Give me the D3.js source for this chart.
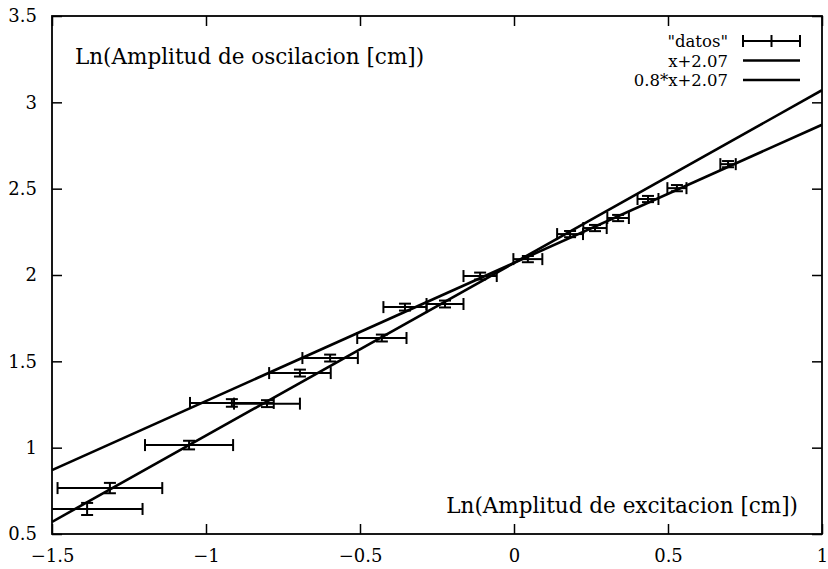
<!DOCTYPE html>
<html>
<head>
<meta charset="utf-8">
<script src="https://cdn.jsdelivr.net/npm/d3@7"></script>
<style>
  body { margin: 0; background: #fff; }
</style>
</head>
<body>
<div class="chart-wrapper"></div>
<script>
// measured points (ln of excitation amplitude vs ln of oscillation amplitude)
var xVals = [-1.386, -1.312, -1.055, -0.916, -0.802, -0.695, -0.597, -0.429, -0.354, -0.224, -0.110, 0.045, 0.182, 0.263, 0.338, 0.435, 0.529, 0.695];
var yVals = [0.645, 0.766, 1.015, 1.259, 1.255, 1.432, 1.519, 1.635, 1.814, 1.832, 1.994, 2.092, 2.237, 2.272, 2.330, 2.440, 2.503, 2.642];
var xErr = [0.18, 0.17, 0.143, 0.136, 0.107, 0.10, 0.09, 0.08, 0.07, 0.06, 0.054, 0.047, 0.042, 0.038, 0.035, 0.034, 0.031, 0.025];
var yErr = [0.035, 0.03, 0.025, 0.022, 0.02, 0.02, 0.02, 0.02, 0.02, 0.02, 0.02, 0.018, 0.018, 0.018, 0.018, 0.018, 0.018, 0.018];

// fitted lines
var fitNames = ["x+2.07", "0.8*x+2.07"];
var fitSlopes = [1, 0.8];
var fitIntercepts = [2.07, 2.07];

var xTicks = [-1.5, -1, -0.5, 0, 0.5, 1];
var yTicks = [0.5, 1, 1.5, 2, 2.5, 3, 3.5];

var serif = "'DejaVu Serif', 'Liberation Serif', serif";
var width = 828, height = 569;
var margin = {top: 16, right: 6, bottom: 35, left: 52};

var svg = d3.select(".chart-wrapper").append("svg")
  .attr("width", width)
  .attr("height", height)
  .attr("font-family", serif);

var x = d3.scaleLinear().domain([-1.5, 1]).range([margin.left, width - margin.right]);
var y = d3.scaleLinear().domain([0.5, 3.5]).range([height - margin.bottom, margin.top]);

svg.append("clipPath").attr("id", "plot-clip")
  .append("rect")
  .attr("x", margin.left).attr("y", margin.top)
  .attr("width", width - margin.left - margin.right)
  .attr("height", height - margin.top - margin.bottom);

//axes with inward ticks, mirrored on every side
var tickLen = 10;
function styleAxis(g) {
  g.attr("font-family", serif).attr("font-size", 18);
  g.select(".domain").remove();
  g.selectAll("line").attr("stroke", "#000").attr("stroke-width", 1.5);
  g.selectAll("text").attr("fill", "#000");
}
svg.append("g")
  .attr("transform", "translate(0," + y.range()[0] + ")")
  .call(d3.axisBottom(x).tickValues(xTicks).tickSize(-tickLen).tickPadding(15).tickFormat(d3.format("")))
  .call(styleAxis)
  .selectAll("text").text(function(d) { return String(d).replace("-", "\u2212"); });
svg.append("g")
  .attr("transform", "translate(0," + y.range()[1] + ")")
  .call(d3.axisTop(x).tickValues(xTicks).tickSize(-tickLen).tickFormat(""))
  .call(styleAxis);
svg.append("g")
  .attr("transform", "translate(" + x.range()[0] + ",0)")
  .call(d3.axisLeft(y).tickValues(yTicks).tickSize(-tickLen).tickPadding(15).tickFormat(d3.format("")))
  .call(styleAxis);
svg.append("g")
  .attr("transform", "translate(" + x.range()[1] + ",0)")
  .call(d3.axisRight(y).tickValues(yTicks).tickSize(-tickLen).tickFormat(""))
  .call(styleAxis);

svg.append("rect")
  .attr("x", margin.left).attr("y", margin.top)
  .attr("width", width - margin.left - margin.right)
  .attr("height", height - margin.top - margin.bottom)
  .attr("fill", "none").attr("stroke", "#000").attr("stroke-width", 1.8);

var plot = svg.append("g").attr("clip-path", "url(#plot-clip)");

// fit lines
var line = d3.line().x(function(d) { return x(d[0]); }).y(function(d) { return y(d[1]); });
fitSlopes.forEach(function(m, i) {
  var pts = x.domain().map(function(v) { return [v, m * v + fitIntercepts[i]]; });
  plot.append("path")
    .attr("d", line(pts))
    .attr("fill", "none")
    .attr("stroke", "#000")
    .attr("stroke-width", 2.6);
});

// error bars
var data = xVals.map(function(v, i) {
  return {x: v, y: yVals[i], dx: xErr[i], dy: yErr[i]};
});
var cap = 6;
var bars = plot.selectAll(".bar").data(data).enter().append("g")
  .attr("class", "bar")
  .attr("stroke", "#000")
  .attr("stroke-width", 2);
bars.append("line")
  .attr("x1", function(d) { return x(d.x - d.dx); })
  .attr("x2", function(d) { return x(d.x + d.dx); })
  .attr("y1", function(d) { return y(d.y); })
  .attr("y2", function(d) { return y(d.y); });
bars.append("line")
  .attr("x1", function(d) { return x(d.x - d.dx); })
  .attr("x2", function(d) { return x(d.x - d.dx); })
  .attr("y1", function(d) { return y(d.y) - cap; })
  .attr("y2", function(d) { return y(d.y) + cap; });
bars.append("line")
  .attr("x1", function(d) { return x(d.x + d.dx); })
  .attr("x2", function(d) { return x(d.x + d.dx); })
  .attr("y1", function(d) { return y(d.y) - cap; })
  .attr("y2", function(d) { return y(d.y) + cap; });
bars.append("line")
  .attr("x1", function(d) { return x(d.x); })
  .attr("x2", function(d) { return x(d.x); })
  .attr("y1", function(d) { return y(d.y - d.dy); })
  .attr("y2", function(d) { return y(d.y + d.dy); });
bars.append("line")
  .attr("x1", function(d) { return x(d.x) - cap; })
  .attr("x2", function(d) { return x(d.x) + cap; })
  .attr("y1", function(d) { return y(d.y - d.dy); })
  .attr("y2", function(d) { return y(d.y - d.dy); });
bars.append("line")
  .attr("x1", function(d) { return x(d.x) - cap; })
  .attr("x2", function(d) { return x(d.x) + cap; })
  .attr("y1", function(d) { return y(d.y + d.dy); })
  .attr("y2", function(d) { return y(d.y + d.dy); });

// axis labels placed inside the frame, gnuplot style
svg.append("text")
  .attr("x", 75).attr("y", 64)
  .attr("font-size", 21.5)
  .text("Ln(Amplitud de oscilacion [cm])");
svg.append("text")
  .attr("x", 798).attr("y", 513)
  .attr("text-anchor", "end")
  .attr("font-size", 21.5)
  .text("Ln(Amplitud de excitacion [cm])");

// legend
var legendNames = ["\"datos\""].concat(fitNames);
var legend = svg.append("g");
legendNames.forEach(function(name, i) {
  var cy = 41 + i * 19.5;
  legend.append("text")
    .attr("x", 728).attr("y", cy + 6)
    .attr("text-anchor", "end")
    .attr("font-size", 16.5)
    .text(name);
  legend.append("line")
    .attr("x1", 743).attr("x2", 800)
    .attr("y1", cy).attr("y2", cy)
    .attr("stroke", "#000").attr("stroke-width", i === 0 ? 2 : 2.4);
  if (i === 0) {
    [743, 771.5, 800].forEach(function(px) {
      legend.append("line")
        .attr("x1", px).attr("x2", px)
        .attr("y1", cy - cap).attr("y2", cy + cap)
        .attr("stroke", "#000").attr("stroke-width", 2);
    });
  }
});
</script>
</body>
</html>
